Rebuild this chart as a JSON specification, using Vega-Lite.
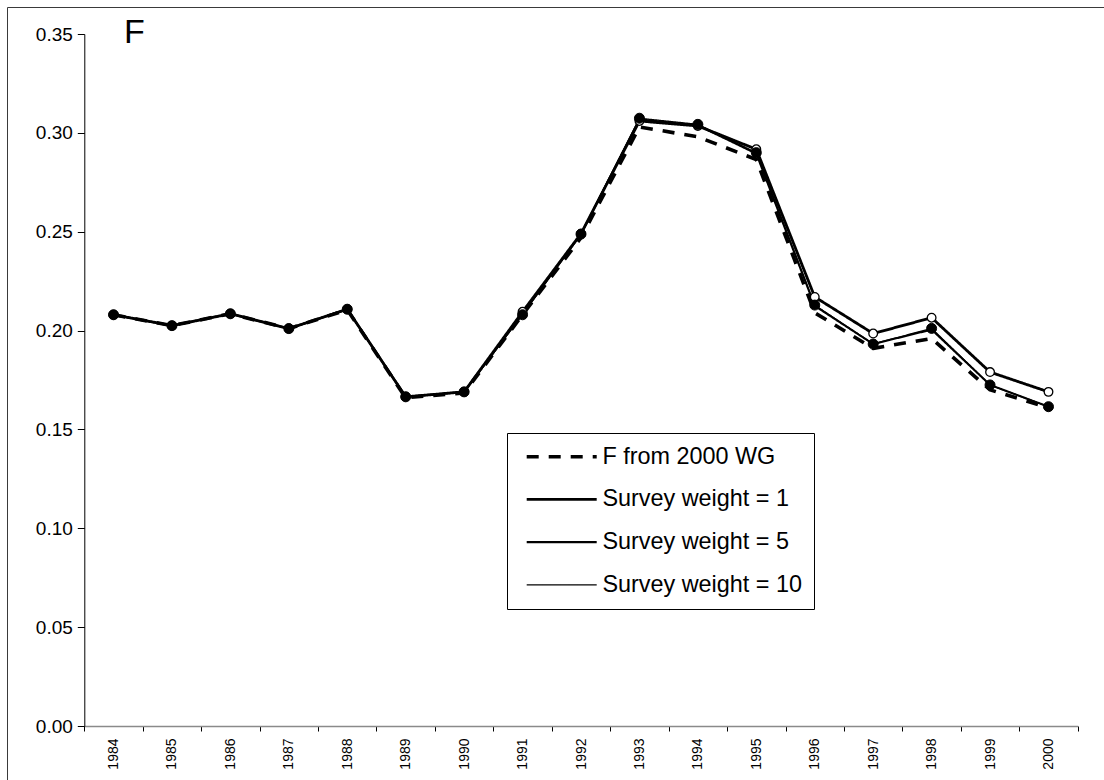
{
  "$schema": "https://vega.github.io/schema/vega-lite/v6.json",
  "width": 1097,
  "height": 773,
  "autosize": "none",
  "padding": {"left": 7, "top": 7, "right": 0, "bottom": 0},
  "background": "white",
  "title": {
    "text": "F",
    "anchor": "start",
    "frame": "group",
    "offset": 0,
    "dx": 117,
    "dy": 70,
    "baseline": "alphabetic",
    "fontSize": 34,
    "fontWeight": "normal",
    "font": "Liberation Sans",
    "color": "black"
  },
  "config": {
    "view": {"stroke": "#3a3a3a", "strokeWidth": 1},
    "font": "Liberation Sans",
    "mark": {"color": "black"},
    "line": {"strokeJoin": "round", "strokeCap": "butt"}
  },
  "data": {
    "values": [
      {"year": 1984, "series": "F from 2000 WG", "F": 0.208},
      {"year": 1985, "series": "F from 2000 WG", "F": 0.2025},
      {"year": 1986, "series": "F from 2000 WG", "F": 0.2085},
      {"year": 1987, "series": "F from 2000 WG", "F": 0.201},
      {"year": 1988, "series": "F from 2000 WG", "F": 0.2105},
      {"year": 1989, "series": "F from 2000 WG", "F": 0.166},
      {"year": 1990, "series": "F from 2000 WG", "F": 0.1685},
      {"year": 1991, "series": "F from 2000 WG", "F": 0.208},
      {"year": 1992, "series": "F from 2000 WG", "F": 0.247},
      {"year": 1993, "series": "F from 2000 WG", "F": 0.303},
      {"year": 1994, "series": "F from 2000 WG", "F": 0.298},
      {"year": 1995, "series": "F from 2000 WG", "F": 0.2865},
      {"year": 1996, "series": "F from 2000 WG", "F": 0.209},
      {"year": 1997, "series": "F from 2000 WG", "F": 0.191},
      {"year": 1998, "series": "F from 2000 WG", "F": 0.196},
      {"year": 1999, "series": "F from 2000 WG", "F": 0.17},
      {"year": 2000, "series": "F from 2000 WG", "F": 0.161},

      {"year": 1984, "series": "Survey weight = 1", "F": 0.208},
      {"year": 1985, "series": "Survey weight = 1", "F": 0.2025},
      {"year": 1986, "series": "Survey weight = 1", "F": 0.2085},
      {"year": 1987, "series": "Survey weight = 1", "F": 0.201},
      {"year": 1988, "series": "Survey weight = 1", "F": 0.2108},
      {"year": 1989, "series": "Survey weight = 1", "F": 0.1665},
      {"year": 1990, "series": "Survey weight = 1", "F": 0.169},
      {"year": 1991, "series": "Survey weight = 1", "F": 0.2095},
      {"year": 1992, "series": "Survey weight = 1", "F": 0.249},
      {"year": 1993, "series": "Survey weight = 1", "F": 0.306},
      {"year": 1994, "series": "Survey weight = 1", "F": 0.3035},
      {"year": 1995, "series": "Survey weight = 1", "F": 0.2917},
      {"year": 1996, "series": "Survey weight = 1", "F": 0.217},
      {"year": 1997, "series": "Survey weight = 1", "F": 0.1985},
      {"year": 1998, "series": "Survey weight = 1", "F": 0.2065},
      {"year": 1999, "series": "Survey weight = 1", "F": 0.179},
      {"year": 2000, "series": "Survey weight = 1", "F": 0.169},

      {"year": 1984, "series": "Survey weight = 5", "F": 0.208},
      {"year": 1985, "series": "Survey weight = 5", "F": 0.2025},
      {"year": 1986, "series": "Survey weight = 5", "F": 0.2085},
      {"year": 1987, "series": "Survey weight = 5", "F": 0.201},
      {"year": 1988, "series": "Survey weight = 5", "F": 0.2108},
      {"year": 1989, "series": "Survey weight = 5", "F": 0.1665},
      {"year": 1990, "series": "Survey weight = 5", "F": 0.169},
      {"year": 1991, "series": "Survey weight = 5", "F": 0.2085},
      {"year": 1992, "series": "Survey weight = 5", "F": 0.2488},
      {"year": 1993, "series": "Survey weight = 5", "F": 0.3068},
      {"year": 1994, "series": "Survey weight = 5", "F": 0.3038},
      {"year": 1995, "series": "Survey weight = 5", "F": 0.2895},
      {"year": 1996, "series": "Survey weight = 5", "F": 0.2125},
      {"year": 1997, "series": "Survey weight = 5", "F": 0.1932},
      {"year": 1998, "series": "Survey weight = 5", "F": 0.2005},
      {"year": 1999, "series": "Survey weight = 5", "F": 0.1725},
      {"year": 2000, "series": "Survey weight = 5", "F": 0.1615},

      {"year": 1984, "series": "Survey weight = 10", "F": 0.208},
      {"year": 1985, "series": "Survey weight = 10", "F": 0.2025},
      {"year": 1986, "series": "Survey weight = 10", "F": 0.2085},
      {"year": 1987, "series": "Survey weight = 10", "F": 0.201},
      {"year": 1988, "series": "Survey weight = 10", "F": 0.2108},
      {"year": 1989, "series": "Survey weight = 10", "F": 0.1665},
      {"year": 1990, "series": "Survey weight = 10", "F": 0.169},
      {"year": 1991, "series": "Survey weight = 10", "F": 0.208},
      {"year": 1992, "series": "Survey weight = 10", "F": 0.2488},
      {"year": 1993, "series": "Survey weight = 10", "F": 0.3074},
      {"year": 1994, "series": "Survey weight = 10", "F": 0.3043},
      {"year": 1995, "series": "Survey weight = 10", "F": 0.29},
      {"year": 1996, "series": "Survey weight = 10", "F": 0.2129},
      {"year": 1997, "series": "Survey weight = 10", "F": 0.1932},
      {"year": 1998, "series": "Survey weight = 10", "F": 0.2011},
      {"year": 1999, "series": "Survey weight = 10", "F": 0.1725},
      {"year": 2000, "series": "Survey weight = 10", "F": 0.1615}
    ]
  },
  "layer": [
    {
      "mark": {"type": "line"},
      "encoding": {
        "x": {
          "field": "year",
          "type": "ordinal",
          "scale": {"type": "band", "range": [77.3, 1070.7], "paddingInner": 0, "paddingOuter": 0},
          "axis": {
            "title": null,
            "offset": -54,
            "tickBand": "extent",
            "labelAngle": 270,
            "labelFontSize": 14,
            "labelFont": "Liberation Sans",
            "labelColor": "black",
            "labelPadding": 7,
            "tickSize": 5,
            "tickColor": "black",
            "domainColor": "#8a8a8a",
            "domainWidth": 1.5,
            "grid": false
          }
        },
        "y": {
          "field": "F",
          "type": "quantitative",
          "scale": {"domain": [0, 0.35], "range": [719, 27], "nice": false},
          "axis": {
            "title": null,
            "offset": -77.3,
            "values": [0, 0.05, 0.1, 0.15, 0.2, 0.25, 0.3, 0.35],
            "format": ".2f",
            "labelFontSize": 19,
            "labelFont": "Liberation Sans",
            "labelColor": "black",
            "labelPadding": 5,
            "tickSize": 7,
            "tickColor": "black",
            "domainColor": "black",
            "grid": false
          }
        },
        "strokeDash": {
          "field": "series",
          "type": "nominal",
          "scale": {
            "domain": ["F from 2000 WG", "Survey weight = 1", "Survey weight = 5", "Survey weight = 10"],
            "range": [[12, 10], [1, 0], [1, 0], [1, 0]]
          },
          "legend": {
            "type": "symbol",
            "title": null,
            "orient": "none",
            "legendX": 500,
            "legendY": 426,
            "padding": 12,
            "strokeColor": "black",
            "fillColor": "white",
            "labelFont": "Liberation Sans",
            "labelFontSize": 23.4,
            "labelColor": "black",
            "labelLimit": 400,
            "rowPadding": 17.7,
            "symbolSize": 100,
            "symbolType": "M-0.8,0H13.2",
            "symbolStrokeWidth": 2.6,
            "symbolStrokeColor": "black",
            "symbolFillColor": "transparent",
            "labelOffset": 60,
            "encode": {
              "symbols": {
                "shape": {"value": {"expr": "datum.value === 'Survey weight = 1' ? 'M-0.8,0H5.35M7.05,0H13.2M7.05,0A0.85,0.85,0,1,1,5.35,0A0.85,0.85,0,1,1,7.05,0Z' : datum.value === 'Survey weight = 10' ? 'M-0.8,0H5.2M7.2,0H13.2M7.2,0A1,1,0,1,1,5.2,0A1,1,0,1,1,7.2,0Z' : 'M-0.8,0H13.2'"}},
                "fill": {"value": {"expr": "datum.value === 'Survey weight = 1' ? 'white' : datum.value === 'Survey weight = 10' ? 'black' : 'transparent'"}},
                "strokeWidth": {"value": {"expr": "datum.value === 'F from 2000 WG' ? 3.6 : datum.value === 'Survey weight = 5' ? 3.8 : 1.3"}},
                "stroke": {"value": "black"},
                "opacity": {"value": 1}
              }
            }
          }
        },
        "strokeWidth": {
          "field": "series",
          "type": "nominal",
          "scale": {
            "domain": ["F from 2000 WG", "Survey weight = 1", "Survey weight = 5", "Survey weight = 10"],
            "range": [3.6, 1.3, 3.8, 1.4]
          },
          "legend": null
        }
      }
    },
    {
      "transform": [{"filter": "datum.series === 'Survey weight = 1'"}],
      "mark": {"type": "point", "shape": "circle", "filled": true, "fill": "white", "stroke": "black", "strokeWidth": 1.3, "size": 75, "opacity": 1},
      "encoding": {
        "x": {"field": "year", "type": "ordinal"},
        "y": {"field": "F", "type": "quantitative"}
      }
    },
    {
      "transform": [{"filter": "datum.series === 'Survey weight = 10'"}],
      "mark": {"type": "point", "shape": "circle", "filled": true, "fill": "black", "stroke": "black", "strokeWidth": 1, "size": 100, "opacity": 1},
      "encoding": {
        "x": {"field": "year", "type": "ordinal"},
        "y": {"field": "F", "type": "quantitative"}
      }
    }
  ]
}
